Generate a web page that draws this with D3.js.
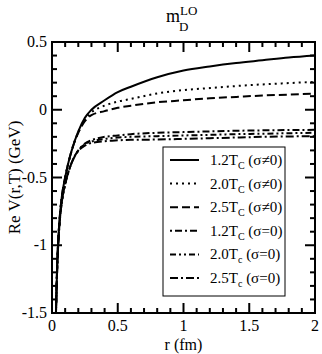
<!DOCTYPE html>
<html>
<head>
<meta charset="utf-8">
<script src="https://cdn.jsdelivr.net/npm/d3@7"></script>
<style>
body { margin: 0; background: #fff; }
</style>
</head>
<body>
<script>
// r values (fm)
var rVals = [0.025, 0.03, 0.04, 0.05, 0.06, 0.075, 0.1, 0.125, 0.15, 0.2, 0.25, 0.3, 0.4, 0.5, 0.6, 0.8, 1.0, 1.2, 1.4, 1.6, 1.8, 2.0];
// Re V(r,T) in GeV
var v12s = [-1.78, -1.50, -1.13, -0.92, -0.78, -0.64, -0.50, -0.39, -0.30, -0.16, -0.06, 0.00, 0.07, 0.13, 0.17, 0.24, 0.29, 0.32, 0.345, 0.365, 0.385, 0.40];
var v20s = [-1.78, -1.50, -1.13, -0.92, -0.78, -0.64, -0.50, -0.39, -0.30, -0.165, -0.075, -0.02, 0.03, 0.06, 0.08, 0.12, 0.145, 0.16, 0.175, 0.187, 0.197, 0.205];
var v25s = [-1.78, -1.50, -1.13, -0.92, -0.78, -0.64, -0.50, -0.39, -0.30, -0.17, -0.085, -0.04, -0.01, 0.015, 0.03, 0.055, 0.07, 0.085, 0.095, 0.105, 0.112, 0.12];
var v12z = [-1.80, -1.52, -1.16, -0.95, -0.81, -0.68, -0.55, -0.46, -0.39, -0.30, -0.25, -0.225, -0.20, -0.19, -0.18, -0.17, -0.165, -0.16, -0.155, -0.152, -0.15, -0.148];
var v20z = [-1.80, -1.52, -1.16, -0.95, -0.81, -0.68, -0.55, -0.46, -0.39, -0.30, -0.255, -0.235, -0.215, -0.205, -0.20, -0.195, -0.19, -0.185, -0.18, -0.177, -0.173, -0.17];
var v25z = [-1.80, -1.52, -1.16, -0.95, -0.81, -0.68, -0.55, -0.46, -0.39, -0.305, -0.265, -0.245, -0.232, -0.226, -0.222, -0.22, -0.215, -0.21, -0.205, -0.2, -0.197, -0.195];

var labels = ["1.2", "2.0", "2.5", "1.2", "2.0", "2.5"];
var subs = ["C", "C", "C", "C", "c", "c"];
var sigmaTxt = ["(σ≠0)", "(σ≠0)", "(σ≠0)", "(σ=0)", "(σ=0)", "(σ=0)"];
var dashes = [null, "2,4", "8,4", "2,3,7,3", "6,3,2,3,2,3", "8,3,2,3"];
var seriesVals = [v12s, v20s, v25s, v12z, v20z, v25z];

var xTicks = [0, 0.5, 1, 1.5, 2];
var yTicks = [-1.5, -1, -0.5, 0, 0.5];

var width = 322, height = 354;
var pL = 52, pR = 315, pT = 42, pB = 313;

var svg = d3.select("body").append("svg")
	.attr("width", width)
	.attr("height", height)
	.attr("font-family", "Liberation Serif, Times New Roman, serif");

var x = d3.scaleLinear().domain([0, 2]).range([pL, pR]);
var y = d3.scaleLinear().domain([-1.5, 0.5]).range([pB, pT]);

svg.append("clipPath").attr("id", "clip")
	.append("rect").attr("x", pL).attr("y", pT)
	.attr("width", pR - pL).attr("height", pB - pT);

var line = d3.line()
	.x(function(d){ return x(d[0]); })
	.y(function(d){ return y(d[1]); })
	.curve(d3.curveMonotoneX);

var plot = svg.append("g").attr("clip-path", "url(#clip)");
seriesVals.forEach(function(vals, i){
	plot.append("path")
		.datum(rVals.map(function(r, j){ return [r, vals[j]]; }))
		.attr("fill", "none")
		.attr("stroke", "#000")
		.attr("stroke-width", 2)
		.attr("stroke-dasharray", dashes[i])
		.attr("d", line);
});

// ticks on all four sides, pointing inward
var minorX = d3.range(0, 2.001, 0.1);
var minorY = d3.range(-1.5, 0.501, 0.1);
function isMajor(v){ return Math.abs(v * 2 - Math.round(v * 2)) < 1e-6; }

var tg = svg.append("g").attr("stroke", "#000").attr("stroke-width", 2);
minorX.forEach(function(v){
	var len = isMajor(v) ? 10 : 5;
	tg.append("line").attr("x1", x(v)).attr("x2", x(v)).attr("y1", pB).attr("y2", pB - len);
	tg.append("line").attr("x1", x(v)).attr("x2", x(v)).attr("y1", pT).attr("y2", pT + len);
});
minorY.forEach(function(v){
	var len = isMajor(v) ? 10 : 5;
	tg.append("line").attr("y1", y(v)).attr("y2", y(v)).attr("x1", pL).attr("x2", pL + len);
	tg.append("line").attr("y1", y(v)).attr("y2", y(v)).attr("x1", pR).attr("x2", pR - len);
});

svg.append("rect")
	.attr("x", pL).attr("y", pT)
	.attr("width", pR - pL).attr("height", pB - pT)
	.attr("fill", "none").attr("stroke", "#000").attr("stroke-width", 2);

svg.selectAll(".xl").data(xTicks).enter().append("text")
	.attr("x", function(d){ return x(d); })
	.attr("y", pB + 18)
	.attr("text-anchor", "middle")
	.attr("font-size", 16)
	.text(function(d){ return d; });

svg.selectAll(".yl").data(yTicks).enter().append("text")
	.attr("x", pL - 5)
	.attr("y", function(d){ return y(d) + 5; })
	.attr("text-anchor", "end")
	.attr("font-size", 16)
	.text(function(d){ return d; });

svg.append("text")
	.attr("x", (pL + pR) / 2)
	.attr("y", 350)
	.attr("text-anchor", "middle")
	.attr("font-size", 16)
	.text("r (fm)");

svg.append("text")
	.attr("transform", "translate(20," + ((pT + pB) / 2) + ") rotate(-90)")
	.attr("text-anchor", "middle")
	.attr("font-size", 17)
	.text("Re V(r,T) (GeV)");

// title m_D^LO
var title = svg.append("text").attr("x", 166).attr("y", 22).attr("font-size", 18);
title.append("tspan").text("m");
title.append("tspan").attr("font-size", 13).attr("dy", -7).text("LO");
svg.append("text").attr("x", 179).attr("y", 31).attr("font-size", 13).text("D");

// legend
var lg = svg.append("g");
lg.append("rect")
	.attr("x", 163).attr("y", 147)
	.attr("width", 122).attr("height", 149)
	.attr("fill", "#fff").attr("stroke", "#000").attr("stroke-width", 1);

labels.forEach(function(lab, i){
	var yy = 160 + i * 23.6;
	lg.append("line")
		.attr("x1", 170).attr("x2", 199)
		.attr("y1", yy).attr("y2", yy)
		.attr("stroke", "#000").attr("stroke-width", 2)
		.attr("stroke-dasharray", dashes[i]);
	var t = lg.append("text").attr("x", 210).attr("y", yy + 5).attr("font-size", 15);
	t.append("tspan").text(lab + "T");
	t.append("tspan").attr("font-size", 10).attr("dy", 4).text(subs[i]);
	t.append("tspan").attr("dy", -4).text(" " + sigmaTxt[i]);
});
</script>
</body>
</html>
